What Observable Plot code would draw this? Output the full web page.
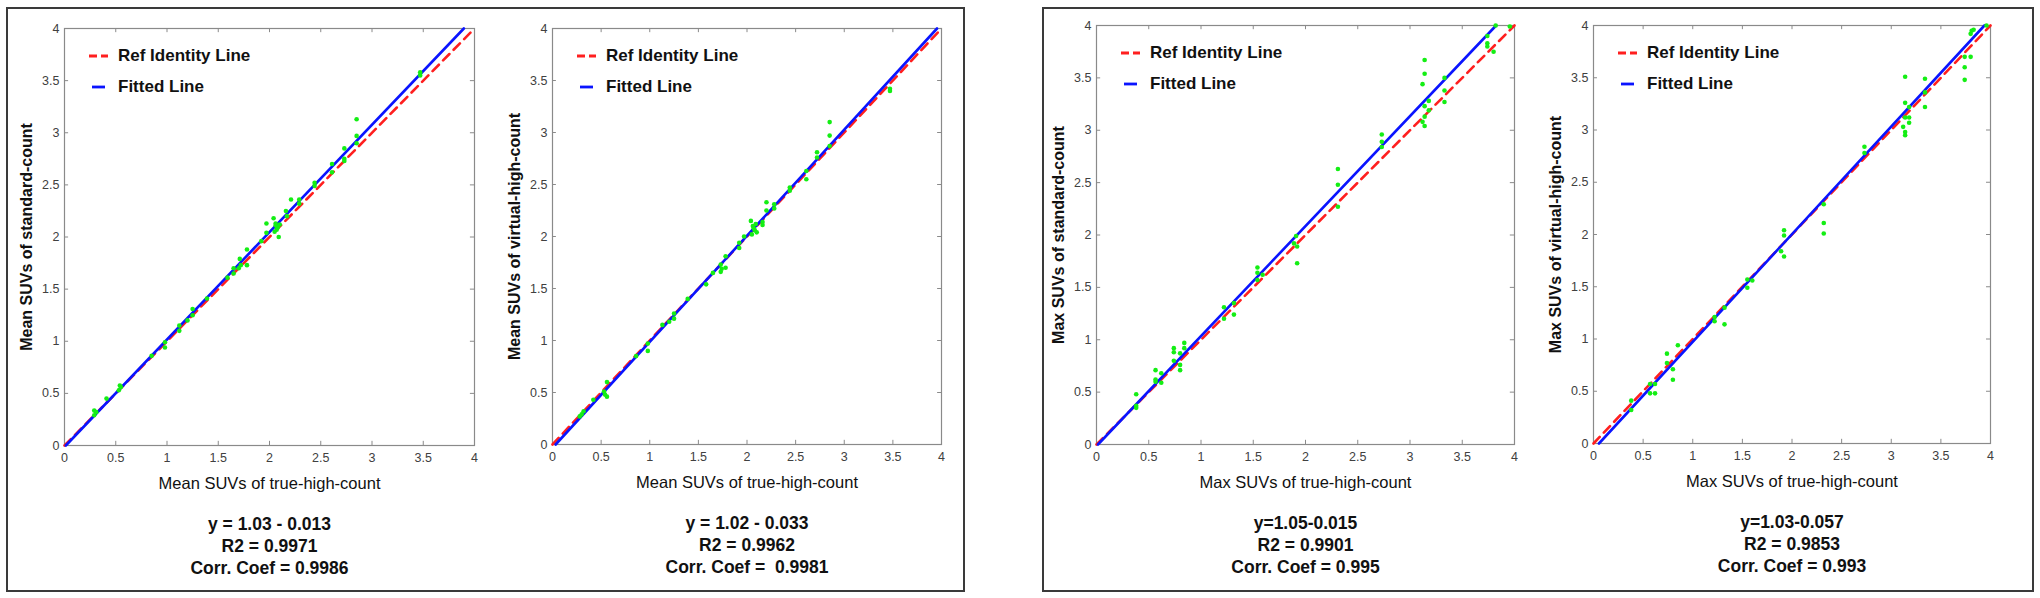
<!DOCTYPE html>
<html>
<head>
<meta charset="utf-8">
<script src="https://cdn.jsdelivr.net/npm/d3@7"></script>
<script src="https://cdn.jsdelivr.net/npm/@observablehq/plot@0.6"></script>
<style>
  html, body { margin: 0; padding: 0; background: #fff; }
  #root { position: relative; width: 2040px; height: 598px; overflow: hidden; font-family: "Liberation Sans", Arial, Helvetica, sans-serif; }
  .box { position: absolute; box-sizing: border-box; border: 2px solid #3a3a3a; }
  .panel { position: absolute; top: 0; }
  .legend { position: absolute; font-weight: bold; font-size: 17px; color: #111; }
  .legend .row { position: absolute; white-space: nowrap; height: 20px; line-height: 20px; }
  .legend svg { position: absolute; top: 0; }
</style>
</head>
<body>
<div id="root"></div>
<script>
// ---------- data ----------
const tickValues = [0, 0.5, 1, 1.5, 2, 2.5, 3, 3.5, 4];

const meanStdX = [3.47,3.47,2.85,2.85,2.85,2.73,2.73,2.73,2.61,2.61,2.44,2.44,2.29,2.29,2.21,2.16,2.17,2.04,2.06,2.08,2.05,2.09,2.06,2.07,2.10,1.97,1.97,1.92,1.78,1.78,1.71,1.72,1.70,1.65,1.65,1.59,1.39,1.25,1.25,1.20,1.12,1.12,0.98,0.98,0.85,0.54,0.53,0.55,0.41,0.29,0.31,0.29];
const meanStdY = [3.58,3.55,3.13,2.97,2.90,2.85,2.75,2.73,2.70,2.62,2.52,2.49,2.36,2.32,2.36,2.25,2.20,2.18,2.13,2.09,2.05,2.00,2.11,2.07,2.12,2.13,2.04,1.96,1.88,1.73,1.79,1.73,1.70,1.70,1.65,1.61,1.41,1.31,1.25,1.20,1.15,1.10,0.99,0.94,0.86,0.575,0.53,0.56,0.45,0.335,0.32,0.29];

const meanVirX = [3.47,3.47,2.85,2.85,2.85,2.72,2.72,2.61,2.61,2.44,2.44,2.28,2.28,2.20,2.20,2.16,2.16,2.04,2.06,2.08,2.05,2.07,2.09,2.10,1.97,1.92,1.92,1.78,1.78,1.73,1.73,1.74,1.65,1.58,1.39,1.25,1.25,1.20,1.13,0.98,0.98,0.86,0.56,0.56,0.54,0.53,0.42,0.32,0.28,0.30];
const meanVirY = [3.42,3.40,3.10,2.97,2.87,2.81,2.76,2.63,2.55,2.47,2.44,2.31,2.27,2.33,2.25,2.14,2.11,2.15,2.10,2.06,2.02,2.08,2.12,2.04,2.00,1.94,1.89,1.81,1.70,1.73,1.66,1.69,1.65,1.54,1.40,1.26,1.21,1.18,1.15,0.97,0.90,0.85,0.60,0.46,0.48,0.51,0.43,0.32,0.27,0.29];

const maxStdX = [3.955,3.82,3.74,3.74,3.74,3.80,3.33,3.33,3.33,3.14,3.14,3.12,3.14,3.14,3.12,3.14,3.18,3.18,2.73,2.73,2.73,2.31,2.31,2.31,1.91,1.89,1.92,1.92,1.54,1.54,1.59,1.54,1.315,1.315,1.22,1.22,0.84,0.84,0.80,0.80,0.80,0.74,0.74,0.74,0.62,0.62,0.565,0.565,0.565,0.38,0.38,0.38];
const maxStdY = [3.99,4.00,3.90,3.83,3.80,3.75,3.50,3.38,3.27,3.67,3.54,3.44,3.23,3.13,3.08,3.04,3.28,3.19,2.96,2.89,2.84,2.63,2.48,2.27,1.99,1.92,1.89,1.73,1.69,1.64,1.62,1.57,1.35,1.24,1.31,1.20,0.97,0.92,0.87,0.76,0.71,0.92,0.88,0.80,0.68,0.59,0.71,0.62,0.60,0.48,0.37,0.35];

const maxVirX = [3.96,3.81,3.83,3.80,3.74,3.74,3.74,3.80,3.34,3.34,3.34,3.14,3.14,3.14,3.12,3.14,3.14,3.18,3.18,3.18,2.73,2.73,2.32,2.32,2.32,1.92,1.92,1.89,1.92,1.55,1.55,1.60,1.32,1.32,1.22,1.22,0.85,0.74,0.74,0.80,0.80,0.62,0.62,0.57,0.57,0.38,0.38];
const maxVirY = [4.00,3.95,3.96,3.92,3.70,3.60,3.48,3.70,3.49,3.36,3.22,3.51,3.26,3.12,3.03,2.98,2.95,3.22,3.12,3.07,2.84,2.78,2.29,2.11,2.01,2.04,1.99,1.84,1.79,1.57,1.49,1.56,1.30,1.14,1.21,1.17,0.94,0.86,0.77,0.71,0.61,0.57,0.48,0.48,0.57,0.41,0.32];

// identity line end points and fitted line end points (x, y) per panel
const identityLine = [[0, 0], [4, 4]];
const fitLines = [
  [[0.013, 0], [3.896, 4]],
  [[0.032, 0], [3.954, 4]],
  [[0.014, 0], [3.824, 4]],
  [[0.055, 0], [3.939, 4]]
];

const xLabels = ["Mean SUVs of true-high-count", "Mean SUVs of true-high-count", "Max SUVs of true-high-count", "Max SUVs of true-high-count"];
const yLabels = ["Mean SUVs of standard-count", "Mean SUVs of virtual-high-count", "Max SUVs of standard-count", "Max SUVs of virtual-high-count"];
const fitTexts = ["y = 1.03 - 0.013", "y = 1.02 - 0.033", "y=1.05-0.015", "y=1.03-0.057"];
const r2Texts = ["R2 = 0.9971", "R2 = 0.9962", "R2 = 0.9901", "R2 = 0.9853"];
const corrTexts = ["Corr. Coef = 0.9986", "Corr. Coef =  0.9981", "Corr. Coef = 0.995", "Corr. Coef = 0.993"];
const legendLabels = ["Ref Identity Line", "Fitted Line"];

// ---------- layout ----------
const H = 598;
const frames = [
  {l: 64, r: 474, t: 28, b: 445},
  {l: 552, r: 941, t: 28, b: 444},
  {l: 1096, r: 1514, t: 25, b: 444},
  {l: 1593, r: 1990, t: 25, b: 443}
];
const boxes = [
  {l: 6, t: 7, w: 959, h: 585},
  {l: 1042, t: 7, w: 992, h: 585}
];
const seriesX = [meanStdX, meanVirX, maxStdX, maxVirX];
const seriesY = [meanStdY, meanVirY, maxStdY, maxVirY];

const RED = "#ff1f1f", BLUE = "#0a14ff", GREEN = "#14ee14", FRAME = "#8a8a8a";
const FONT = "Liberation Sans, Arial, Helvetica, sans-serif";
const root = document.getElementById("root");

for (const b of boxes) {
  const d = document.createElement("div");
  d.className = "box";
  Object.assign(d.style, {left: b.l + "px", top: b.t + "px", width: b.w + "px", height: b.h + "px"});
  root.appendChild(d);
}

frames.forEach((f, i) => {
  const ML = 60, MR = 20;
  const pts = d3.zip(seriesX[i], seriesY[i]).map(([x, y]) => ({x, y}));
  const ident = identityLine.map(([x, y]) => ({x, y}));
  const fit = fitLines[i].map(([x, y]) => ({x, y}));
  const plot = Plot.plot({
    width: (f.r - f.l) + ML + MR,
    height: H,
    marginLeft: ML, marginRight: MR, marginTop: f.t, marginBottom: H - f.b,
    style: {background: "transparent", fontFamily: FONT, overflow: "visible"},
    x: {domain: [0, 4], ticks: tickValues},
    y: {domain: [0, 4], ticks: tickValues},
    marks: [
      Plot.frame({stroke: FRAME, strokeWidth: 1.2}),
      Plot.ruleX(tickValues, {x: d => d, y1: 0, y2: 0.04, stroke: FRAME}),
      Plot.ruleX(tickValues, {x: d => d, y1: 3.96, y2: 4, stroke: FRAME}),
      Plot.ruleY(tickValues, {y: d => d, x1: 0, x2: 0.04, stroke: FRAME}),
      Plot.ruleY(tickValues, {y: d => d, x1: 3.96, x2: 4, stroke: FRAME}),
      Plot.axisX({ticks: tickValues, tickSize: 0, tickPadding: 8, tickFormat: d => String(d), label: null, fontSize: 12.5, color: "#404040"}),
      Plot.axisY({ticks: tickValues, tickSize: 0, tickPadding: 5, tickFormat: d => String(d), label: null, fontSize: 12.5, color: "#404040"}),
      Plot.line(ident, {x: "x", y: "y", stroke: RED, strokeWidth: 2.6, strokeDasharray: "9,6"}),
      Plot.line(fit, {x: "x", y: "y", stroke: BLUE, strokeWidth: 2.6}),
      Plot.dot(pts, {x: "x", y: "y", r: 2.3, fill: GREEN, stroke: "none"}),
      Plot.text([yLabels[i]], {text: d => d, frameAnchor: "left", textAnchor: "middle", lineAnchor: "middle", dx: -38, rotate: -90, fontSize: 16, fontWeight: "bold", fill: "#111"}),
      Plot.text([xLabels[i]], {text: d => d, frameAnchor: "bottom", dy: 43, fontSize: 16.5, fill: "#111"}),
      Plot.text([fitTexts[i]], {text: d => d, frameAnchor: "bottom", dy: 84, fontSize: 17.5, fontWeight: "bold", fill: "#111"}),
      Plot.text([r2Texts[i]], {text: d => d, frameAnchor: "bottom", dy: 106, fontSize: 17.5, fontWeight: "bold", fill: "#111"}),
      Plot.text([corrTexts[i]], {text: d => d, frameAnchor: "bottom", dy: 128, fontSize: 17.5, fontWeight: "bold", fill: "#111"})
    ]
  });
  const wrap = document.createElement("div");
  wrap.className = "panel";
  wrap.style.left = (f.l - ML) + "px";
  wrap.appendChild(plot);
  root.appendChild(wrap);

  // legend overlay inside the frame (top-left)
  const lg = document.createElement("div");
  lg.className = "legend";
  lg.style.left = (f.l + 24) + "px";
  lg.style.top = (f.t + 18) + "px";
  lg.innerHTML = `
    <div class="row" style="left:0;top:0;">
      <svg width="22" height="20" style="left:0"><line x1="1" y1="10" x2="20" y2="10" stroke="${RED}" stroke-width="2.8" stroke-dasharray="8,4"/></svg>
      <span style="position:absolute;left:30px;">${legendLabels[0]}</span>
    </div>
    <div class="row" style="left:0;top:31px;">
      <svg width="22" height="20" style="left:0"><line x1="4" y1="10" x2="17" y2="10" stroke="${BLUE}" stroke-width="2.8"/></svg>
      <span style="position:absolute;left:30px;">${legendLabels[1]}</span>
    </div>`;
  root.appendChild(lg);
});
</script>
</body>
</html>
